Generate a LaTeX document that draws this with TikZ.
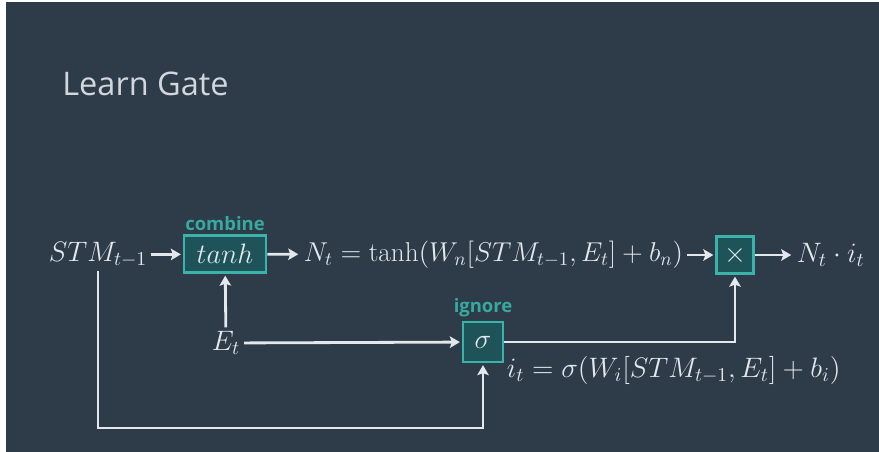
\RequirePackage{fix-cm}
\documentclass[tikz,border=0pt]{standalone}
\usepackage{fontspec}
\setsansfont{Open Sans}
\usepackage{tikz}
\usetikzlibrary{positioning,arrows.meta}
\definecolor{slate}{HTML}{2E3B48}
\definecolor{gatec}{HTML}{3BB3AB}
\definecolor{gatefill}{HTML}{1E5359}
\definecolor{lblc}{HTML}{36A9A1}
\definecolor{wire}{HTML}{E3E8EC}

\begin{document}
\begin{tikzpicture}[x=0.02cm, y=-0.02cm,
  gate/.style={draw=gatec, fill=gatefill, line width=1.6pt, minimum width=1.64cm,
    minimum height=0.74cm, inner sep=0pt, text=wire, font=\fontsize{16}{19}\selectfont},
  lbl/.style={text=lblc, font=\sffamily\bfseries\fontsize{10.5}{12}\selectfont, inner sep=1pt},
  txt/.style={text=wire, font=\fontsize{16}{19}\selectfont, inner sep=2pt},
  arr/.style={-{Stealth[length=2mm, width=2.3mm, inset=0.4mm]}, wire, line width=1.6pt, shorten >=1pt}]
% background
\fill[white] (0,0) rectangle (879,452);
\fill[slate] (6,2) rectangle (879,452);
\useasboundingbox (0,0) rectangle (879,452);
% title
\node[anchor=west, inner sep=0pt, text=wire!90!slate, font=\sffamily\fontsize{18.5}{22}\selectfont] (title) at (62,84) {Learn Gate};
% top row
\node[txt] (stm) at (98,255) {$STM_{t-1}$};
\node[gate] (tanh) at (225,254) {$tanh$};
\node[lbl, above=1pt of tanh] (comb) {combine};
\node[txt, anchor=west, font=\fontsize{15.5}{18}\selectfont] (nt) at (300,255) {$N_t = \tanh(W_n[STM_{t-1}, E_t] + b_n)$};
\node[gate, minimum width=0.74cm] (mul) at (735,255) {$\times$};
\node[txt, anchor=west] (out) at (793,255) {$N_t \cdot i_t$};
% input and ignore gate
\node[txt] (et) at (226,343) {$E_t$};
\node[gate, minimum width=0.8cm, minimum height=0.8cm] (sig) at (483,342) {$\sigma$};
\node[lbl, above=1pt of sig] (ign) {ignore};
\node[txt, anchor=west] (it) at (503,370) {$i_t = \sigma(W_i[STM_{t-1}, E_t] + b_i)$};
\coordinate (loop) at (483,428);
% wires
\draw[arr] (stm) -- (tanh);
\draw[arr] (tanh) -- (nt);
\draw[arr] (nt) -- (mul);
\draw[arr] (mul) -- (out);
\draw[arr] (et) -- (tanh);
\draw[arr] (et) -- (sig);
\draw[arr] (sig) -| (mul);
\draw[arr] (stm) |- (loop) -- (sig);
\end{tikzpicture}
\end{document}
